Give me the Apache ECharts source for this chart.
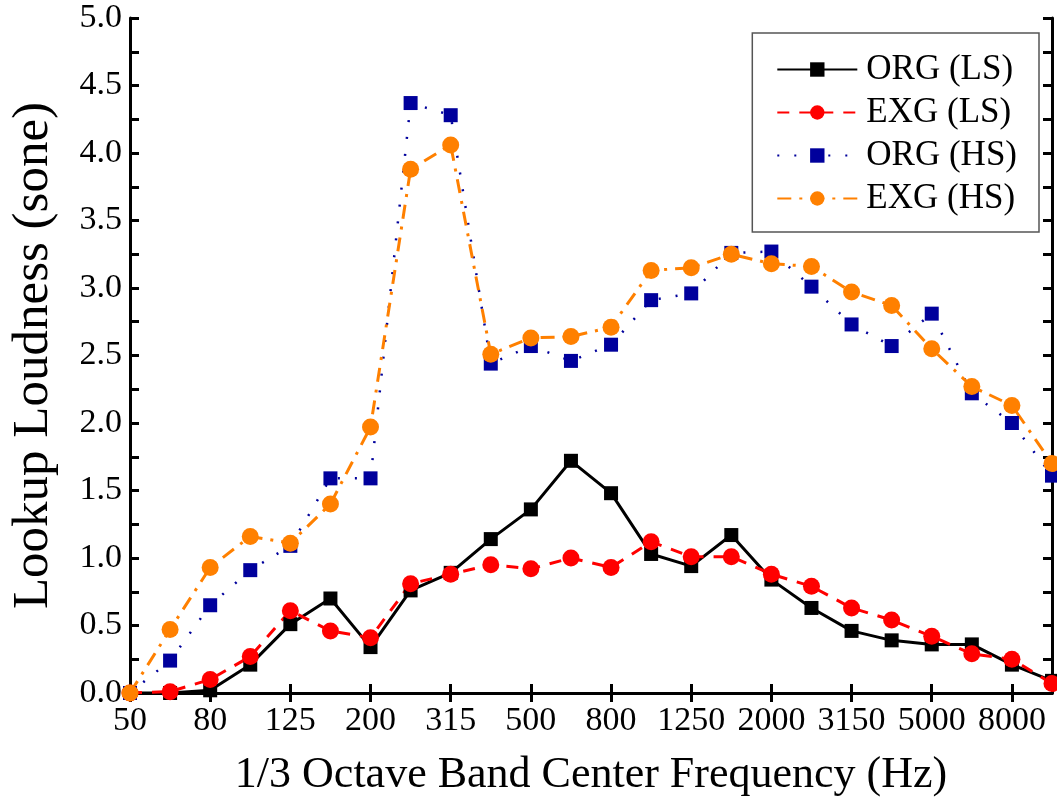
<!DOCTYPE html>
<html>
<head>
<meta charset="utf-8">
<script src="https://cdn.jsdelivr.net/npm/echarts@6/dist/echarts.min.js"></script>
<style>
html,body{margin:0;padding:0;background:#fff;}
#chart{width:1057px;height:805px;}
</style>
</head>
<body>
<div id="chart"></div>
<script>
const categories = ['50','63','80','100','125','160','200','250','315','400','500','630','800','1000','1250','1600','2000','2500','3150','4000','5000','6300','8000','10000'];
const orgLS = [0.00,0.00,0.02,0.21,0.51,0.70,0.34,0.76,0.89,1.14,1.36,1.72,1.48,1.03,0.94,1.17,0.84,0.63,0.46,0.39,0.36,0.36,0.21,0.09];
const exgLS = [0.00,0.01,0.10,0.27,0.61,0.46,0.41,0.81,0.88,0.95,0.92,1.00,0.93,1.12,1.01,1.01,0.88,0.79,0.63,0.54,0.42,0.29,0.25,0.07];
const orgHS = [0.00,0.24,0.65,0.91,1.09,1.59,1.59,4.37,4.28,2.44,2.57,2.46,2.58,2.91,2.96,3.26,3.27,3.01,2.73,2.57,2.81,2.22,2.00,1.61];
const exgHS = [0.00,0.47,0.93,1.16,1.11,1.40,1.97,3.88,4.06,2.51,2.63,2.64,2.71,3.13,3.15,3.25,3.18,3.16,2.97,2.87,2.55,2.27,2.13,1.70];
const seriesNames = ['ORG (LS)','EXG (LS)','ORG (HS)','EXG (HS)'];

const FONT = '"Liberation Serif", "Times New Roman", serif';
const chart = echarts.init(document.getElementById('chart'));
const axisLine = {show:true, lineStyle:{color:'#000', width:3}};
const yLabelFmt = v => (Math.round(v*100) % 50 === 0 ? v.toFixed(1) : '');

chart.setOption({
  backgroundColor:'#fff',
  animation:false,
  grid:{left:126, right:5, top:18, bottom:112, containLabel:false},
  legend:{
    orient:'vertical', right:18, top:33,
    data:seriesNames,
    itemWidth:80, itemHeight:18, itemGap:8,
    padding:[19,22,16,24],
    borderColor:'#555', borderWidth:1.5, backgroundColor:'#fff',
    textStyle:{fontFamily:FONT, fontSize:35, color:'#000', padding:[0,0,0,4]}
  },
  xAxis:[{
    type:'category', data:categories, boundaryGap:false,
    axisLine:axisLine,
    axisTick:{show:true, inside:true, interval:1, length:9, lineStyle:{width:3, color:'#000'}},
    axisLabel:{interval:1, fontFamily:FONT, fontSize:34, color:'#000', margin:11},
    splitLine:{show:false},
    name:'1/3 Octave Band Center Frequency (Hz)', nameLocation:'middle', nameGap:60,
    nameTextStyle:{fontFamily:FONT, fontSize:44, color:'#000'}
  },{
    type:'category', data:categories, boundaryGap:false, position:'top',
    axisLine:axisLine,
    axisTick:{show:true, inside:true, interval:1, length:9, lineStyle:{width:3, color:'#000'}},
    axisLabel:{show:false}, splitLine:{show:false}
  }],
  yAxis:[{
    type:'value', min:0, max:5, interval:0.25,
    axisLine:axisLine,
    axisTick:{show:true, inside:true, length:9, lineStyle:{width:3, color:'#000'}},
    axisLabel:{formatter:yLabelFmt, fontFamily:FONT, fontSize:34, color:'#000', margin:8},
    splitLine:{show:false},
    name:'Lookup Loudness (sone)', nameLocation:'middle', nameGap:71,
    nameTextStyle:{fontFamily:FONT, fontSize:51, color:'#000'}
  },{
    type:'value', min:0, max:5, interval:0.25, position:'right',
    axisLine:axisLine,
    axisTick:{show:true, inside:true, length:9, lineStyle:{width:3, color:'#000'}},
    axisLabel:{show:false}, splitLine:{show:false}
  }],
  series:[
    {name:seriesNames[0], type:'line', data:orgLS, symbol:'rect', symbolSize:14,
     itemStyle:{color:'#000'}, lineStyle:{color:'#000', width:3, type:'solid'}},
    {name:seriesNames[1], type:'line', data:exgLS, symbol:'circle', symbolSize:17,
     itemStyle:{color:'#ff0000'}, lineStyle:{color:'#ff0000', width:3, type:[12,10]}},
    {name:seriesNames[2], type:'line', data:orgHS, symbol:'rect', symbolSize:14,
     itemStyle:{color:'#00009c'}, lineStyle:{color:'#00009c', width:2.5, type:[2,15]}},
    {name:seriesNames[3], type:'line', data:exgHS, symbol:'circle', symbolSize:17,
     itemStyle:{color:'#ff8000'}, lineStyle:{color:'#ff8000', width:3, type:[14,8,3,8]}}
  ]
});
</script>
</body>
</html>
